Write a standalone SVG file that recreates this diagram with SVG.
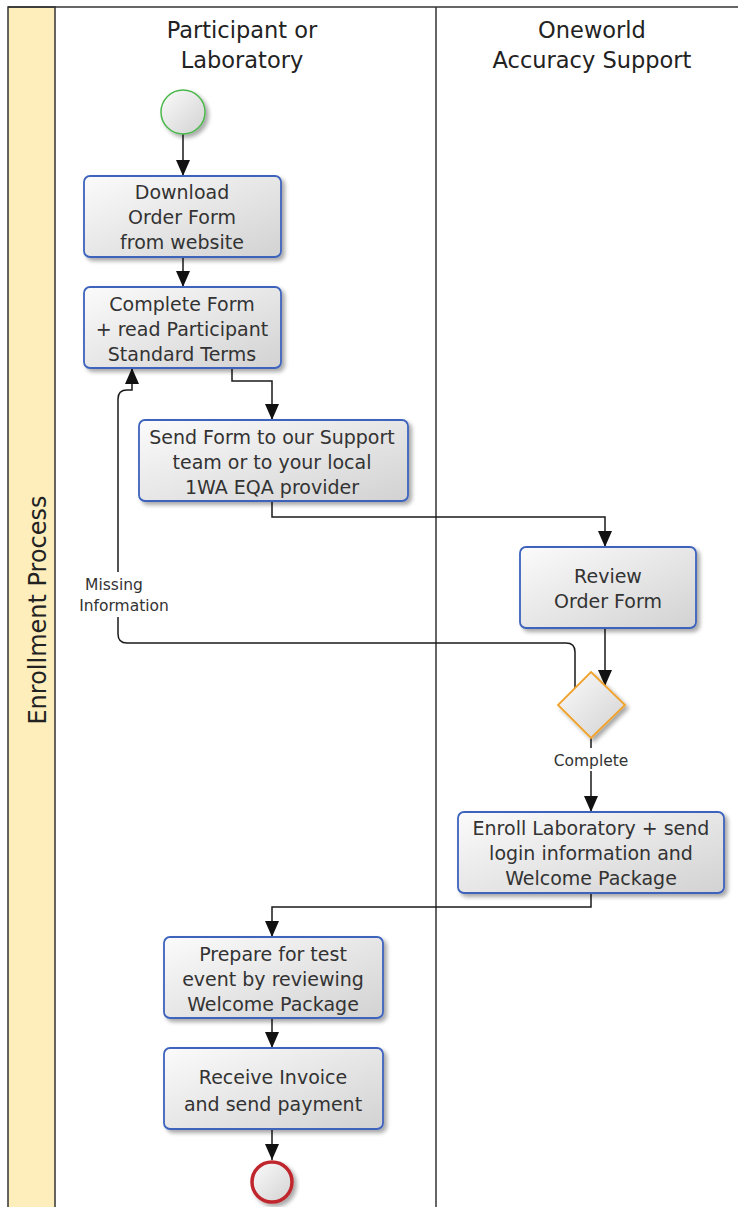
<svg xmlns="http://www.w3.org/2000/svg" width="738" height="1207" viewBox="0 0 738 1207">
<defs>
<linearGradient id="g" x1="0" y1="0" x2="1" y2="1">
<stop offset="0" stop-color="#fbfbfb"/>
<stop offset="1" stop-color="#d2d2d2"/>
</linearGradient>
<filter id="sh" x="-10%" y="-10%" width="130%" height="140%">
<feGaussianBlur in="SourceAlpha" stdDeviation="2"/>
<feOffset dx="3" dy="3" result="b"/>
<feComponentTransfer><feFuncA type="linear" slope="0.35"/></feComponentTransfer>
<feMerge><feMergeNode/><feMergeNode in="SourceGraphic"/></feMerge>
</filter>
<marker id="ah" markerWidth="16" markerHeight="14" refX="16" refY="7" orient="auto" markerUnits="userSpaceOnUse" viewBox="0 0 16 14">
<path d="M0,0 L16,7 L0,14 Z" fill="#111"/>
</marker>
</defs>
<style>
.lane{stroke:#333;stroke-width:1.5;fill:none}
.box{fill:url(#g);stroke:#3d63bd;stroke-width:1.8;filter:url(#sh)}
.t{font-family:"DejaVu Sans",sans-serif;font-size:19px;fill:#333;text-anchor:middle}
.h{font-family:"DejaVu Sans",sans-serif;font-size:22.5px;fill:#222;text-anchor:middle}
.lbl{font-family:"DejaVu Sans",sans-serif;font-size:15.5px;fill:#333;text-anchor:middle}
.c{stroke:#1a1a1a;stroke-width:1.5;fill:none}
.ca{stroke:#1a1a1a;stroke-width:1.5;fill:none;marker-end:url(#ah)}
</style>
<rect width="738" height="1207" fill="#fff"/>
<g id="pool">
<rect x="8" y="7" width="47" height="1210" fill="#fdeebc" stroke="#333" stroke-width="1.5"/>
<line class="lane" x1="8" y1="7" x2="738" y2="7"/>
<line class="lane" x1="436" y1="7" x2="436" y2="1207"/>
<text class="h" transform="translate(46,610) rotate(-90)" style="font-size:24px">Enrollment Process</text>
<text class="h" x="242" y="38">Participant or</text>
<text class="h" x="242" y="68">Laboratory</text>
<text class="h" x="592" y="38">Oneworld</text>
<text class="h" x="592" y="68">Accuracy Support</text>
</g>
<g id="connectors">
<line class="ca" x1="183" y1="134" x2="183" y2="176"/>
<line class="ca" x1="183" y1="257" x2="183" y2="287"/>
<path class="ca" d="M232,368 L232,381 L272,381 L272,420"/>
<path class="ca" d="M272,501 L272,517 L605,517 L605,547"/>
<line class="ca" x1="605" y1="628" x2="605" y2="686"/>
<path class="c" d="M575,689 L575,652 Q575,643 566,643 L127,643 Q118,643 118,634 L118,617"/>
<path class="ca" d="M118,572 L118,399 Q118,390 127,390 L132,390 L132,368"/>
<line class="c" x1="591" y1="738" x2="591" y2="748"/>
<line class="ca" x1="591" y1="771" x2="591" y2="812"/>
<path class="ca" d="M591,893 L591,907 L272,907 L272,937"/>
<line class="ca" x1="272" y1="1018" x2="272" y2="1048"/>
<line class="ca" x1="272" y1="1129" x2="272" y2="1160"/>
<text class="lbl" x="114" y="590">Missing</text>
<text class="lbl" x="124" y="611">Information</text>
<text class="lbl" x="591" y="766">Complete</text>
</g>
<g id="start"><circle cx="183" cy="112" r="22" fill="url(#g)" stroke="#4cb84c" stroke-width="1.5" filter="url(#sh)"/></g>
<g id="n1"><rect class="box" x="84" y="176" width="197" height="81" rx="6"/>
<text class="t" x="182" y="199">Download</text><text class="t" x="182" y="224">Order Form</text><text class="t" x="182" y="249">from website</text></g>
<g id="n2"><rect class="box" x="84" y="287" width="197" height="81" rx="6"/>
<text class="t" x="182" y="311">Complete Form</text><text class="t" x="182" y="336">+ read Participant</text><text class="t" x="182" y="361">Standard Terms</text></g>
<g id="n3"><rect class="box" x="139" y="420" width="269" height="81" rx="6"/>
<text class="t" x="272" y="444">Send Form to our Support</text><text class="t" x="272" y="469">team or to your local</text><text class="t" x="272" y="494">1WA EQA provider</text></g>
<g id="n4"><rect class="box" x="520" y="547" width="176" height="81" rx="6"/>
<text class="t" x="608" y="583">Review</text><text class="t" x="608" y="608">Order Form</text></g>
<g id="gw"><path d="M591,672 L625,705 L591,738 L558,705 Z" fill="url(#g)" stroke="#f0a22c" stroke-width="1.8" filter="url(#sh)"/></g>
<g id="n5"><rect class="box" x="458" y="812" width="266" height="81" rx="6"/>
<text class="t" x="591" y="835">Enroll Laboratory + send</text><text class="t" x="591" y="860">login information and</text><text class="t" x="591" y="885">Welcome Package</text></g>
<g id="n6"><rect class="box" x="164" y="937" width="219" height="81" rx="6"/>
<text class="t" x="273" y="961">Prepare for test</text><text class="t" x="273" y="986">event by reviewing</text><text class="t" x="273" y="1011">Welcome Package</text></g>
<g id="n7"><rect class="box" x="164" y="1048" width="219" height="81" rx="6"/>
<text class="t" x="273" y="1084">Receive Invoice</text><text class="t" x="273" y="1111">and send payment</text></g>
<g id="end"><circle cx="272" cy="1182" r="20" fill="url(#g)" stroke="#c0282d" stroke-width="3.5" filter="url(#sh)"/></g>
</svg>
